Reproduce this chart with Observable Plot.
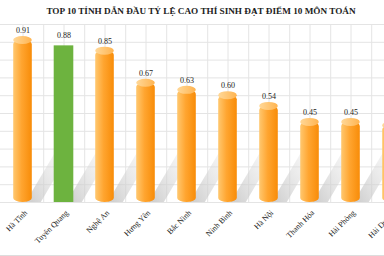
<!DOCTYPE html>
<html><head><meta charset="utf-8">
<script src="https://cdn.jsdelivr.net/npm/d3@7"></script>
<script src="https://cdn.jsdelivr.net/npm/@observablehq/plot@0.6"></script>
<style>
body{margin:0;background:#fff;}
#wrap{width:384px;height:256px;overflow:hidden;box-sizing:border-box;border-bottom:1px solid #ddd;position:relative;}
#title{height:20px;line-height:22px;text-align:center;font-family:"Liberation Serif",serif;font-weight:bold;font-size:9.2px;color:#222;padding-left:18px;white-space:nowrap;}
svg{display:block;}
</style></head>
<body><div id="wrap"><div id="title">TOP 10 TỈNH DẪN ĐẦU TỶ LỆ CAO THÍ SINH ĐẠT ĐIỂM 10 MÔN TOÁN</div></div>
<script>
const provinces = ["Hà Tĩnh","Tuyên Quang","Nghệ An","Hưng Yên","Bắc Ninh","Ninh Bình","Hà Nội","Thanh Hóa","Hải Phòng","Hải Dương"];
const values = [0.91,0.88,0.85,0.67,0.63,0.60,0.54,0.45,0.45,0.43];
const highlight = "Tuyên Quang";
const yTicks = [0,0.1,0.2,0.3,0.4,0.5,0.6,0.7,0.8,0.9,1.0];

const data = provinces.map((p,i)=>({p, v: values[i], next: provinces[i+1]}));
const orange = data.filter(d=>d.p!==highlight);
const green = data.filter(d=>d.p===highlight);
const shadows = data.filter(d=>d.next);
const e = 0.0225;

const chart = Plot.plot({
  width: 384, height: 236,
  marginTop: 4, marginBottom: 54, marginLeft: 0, marginRight: 0,
  x: {domain: provinces, range: [0, 414], padding: 0, axis: null},
  y: {domain: [0, 1], axis: null},
  style: {fontFamily: "Liberation Serif, serif", background: "#fff"},
  marks: [
    Plot.ruleY(yTicks, {stroke: "#e4e4e4", strokeWidth: 1}),
    Plot.ruleX(provinces, {x: d=>d, dx: 20.7, y1: 0, y2: 1, stroke: "#e4e4e4"}),
    Plot.ruleX(provinces, {x: d=>d, y1: 0, y2: 1, stroke: "#e4e4e4"}),
    Plot.link(shadows, {x1: "p", x2: "next", y1: -0.095, y2: 0.295, stroke: "url(#shadowGrad)", strokeWidth: 13, clip: true}),
    Plot.barY(orange, {x: "p", y1: 0, y2: "v", fill: "url(#orangeBody)", insetLeft: 11.2, insetRight: 11.2, rx: 9.5, ry: 4}),
    Plot.barY(orange, {x: "p", y1: d=>d.v - e, y2: d=>d.v + e, fill: "url(#orangeTop)", insetLeft: 11.2, insetRight: 11.2, rx: 9.5, ry: 4}),
    Plot.barY(green, {x: "p", y1: 0, y2: "v", fill: "#6db33f", insetLeft: 10.7, insetRight: 10.7}),
    Plot.text(data, {x: "p", y: "v", text: d=>d.v.toFixed(2), dy: -10, fontSize: 8, fill: "#222"}),
    Plot.text(data, {x: "p", y: 0, text: "p", rotate: -45, textAnchor: "end", dx: 3, dy: 9, fontSize: 8, fill: "#222"})
  ]
});

const svg = d3.select(chart);
const defs = svg.insert("defs", ":first-child");
const ob = defs.append("linearGradient").attr("id","orangeBody").attr("x1",0).attr("x2",1).attr("y1",0).attr("y2",0);
ob.append("stop").attr("offset","0%").attr("stop-color","#ffc870");
ob.append("stop").attr("offset","45%").attr("stop-color","#ffa530");
ob.append("stop").attr("offset","100%").attr("stop-color","#f88c08");
const ot = defs.append("linearGradient").attr("id","orangeTop").attr("x1",0).attr("x2",1).attr("y1",0).attr("y2",0);
ot.append("stop").attr("offset","0%").attr("stop-color","#ffd898");
ot.append("stop").attr("offset","100%").attr("stop-color","#ffb450");
const sg = defs.append("linearGradient").attr("id","shadowGrad").attr("x1",0).attr("x2",1).attr("y1",1).attr("y2",0);
sg.append("stop").attr("offset","0%").attr("stop-color","#b8b8b8").attr("stop-opacity",0.9);
sg.append("stop").attr("offset","100%").attr("stop-color","#e8e8e8").attr("stop-opacity",0.3);

document.getElementById("wrap").appendChild(chart);
</script>
</body></html>
